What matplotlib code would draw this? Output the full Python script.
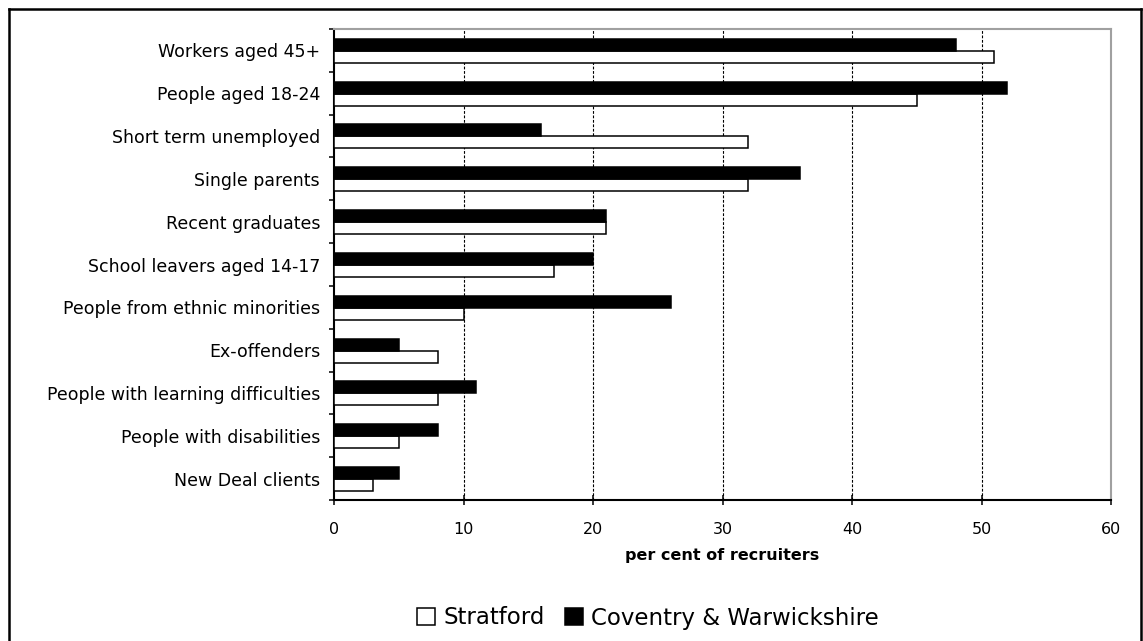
import numpy as np
import matplotlib
matplotlib.use("Agg")
import matplotlib.pyplot as plt
from matplotlib.patches import Patch
from matplotlib.lines import Line2D

categories = [
    "Workers aged 45+",
    "People aged 18-24",
    "Short term unemployed",
    "Single parents",
    "Recent graduates",
    "School leavers aged 14-17",
    "People from ethnic minorities",
    "Ex-offenders",
    "People with learning difficulties",
    "People with disabilities",
    "New Deal clients",
]
stratford = [51, 45, 32, 32, 21, 17, 10, 8, 8, 5, 3]
coventry = [48, 52, 16, 36, 21, 20, 26, 5, 11, 8, 5]
series_names = ["Stratford", "Coventry & Warwickshire"]
x_ticks = [0, 10, 20, 30, 40, 50, 60]
x_label = "per cent of recruiters"

plt.rcParams["font.family"] = ["DejaVu Sans"]

W, H = 1143, 641
fig = plt.figure(figsize=(W / 100, H / 100), dpi=100)
ax = fig.add_axes([334 / W, 1 - 500 / H, (1111 - 334) / W, (500 - 29) / H])

y = np.arange(len(categories))
bar_h = 0.28
ax.barh(y + 0.15, stratford, height=bar_h, color="white",
        edgecolor="black", linewidth=1.1, zorder=3)
ax.barh(y - 0.13, coventry, height=bar_h, color="black",
        edgecolor="black", linewidth=1.1, zorder=3)

ax.set_xlim(0, 60)
ax.set_ylim(len(categories) - 0.5, -0.5)

# x axis: ticks crossing the axis line, dashed vertical grid
ax.set_xticks(x_ticks)
ax.set_xticklabels([str(t) for t in x_ticks])
ax.tick_params(axis="x", direction="inout", length=7, width=1.1,
               labelsize=11.5, pad=12.5)
for t in x_ticks[1:-1]:
    ax.axvline(t, color="black", linewidth=0.8, linestyle=(0, (2.5, 1.5)),
               zorder=1)

# y axis: labels at category centres, small tick marks at boundaries
ax.set_yticks(y)
ax.set_yticklabels(categories)
ax.tick_params(axis="y", which="major", length=0, labelsize=12.5, pad=10)
ax.set_yticks(np.arange(len(categories) + 1) - 0.5, minor=True)
ax.tick_params(axis="y", which="minor", direction="out", length=3.5,
               width=1.1)

for side in ("left", "bottom"):
    ax.spines[side].set_color("black")
    ax.spines[side].set_linewidth(1.5)
for side in ("top", "right"):
    ax.spines[side].set_color("#a0a0a0")
    ax.spines[side].set_linewidth(1.5)

ax.set_xlabel(x_label, fontsize=11.5, fontweight="bold", labelpad=8)

handles = [
    Patch(facecolor="white", edgecolor="black", linewidth=1.1),
    Patch(facecolor="black", edgecolor="black", linewidth=1.1),
]
fig.legend(handles, series_names, loc="center",
           bbox_to_anchor=(648 / W, 1 - 618 / H), ncol=2, frameon=False,
           fontsize=16.5, handlelength=0.8, handleheight=0.8,
           handletextpad=0.35, columnspacing=0.9)

# outer frame of the chart area
for xs, ys in [((8.5 / W, 8.5 / W), (0, 1 - 8.5 / H)),
               ((8.5 / W, 1140.5 / W), (1 - 8.5 / H, 1 - 8.5 / H)),
               ((1140.5 / W, 1140.5 / W), (0, 1 - 8.5 / H))]:
    fig.add_artist(Line2D(xs, ys, transform=fig.transFigure,
                          color="black", linewidth=1.8))

fig.savefig("out.png", dpi=100)
